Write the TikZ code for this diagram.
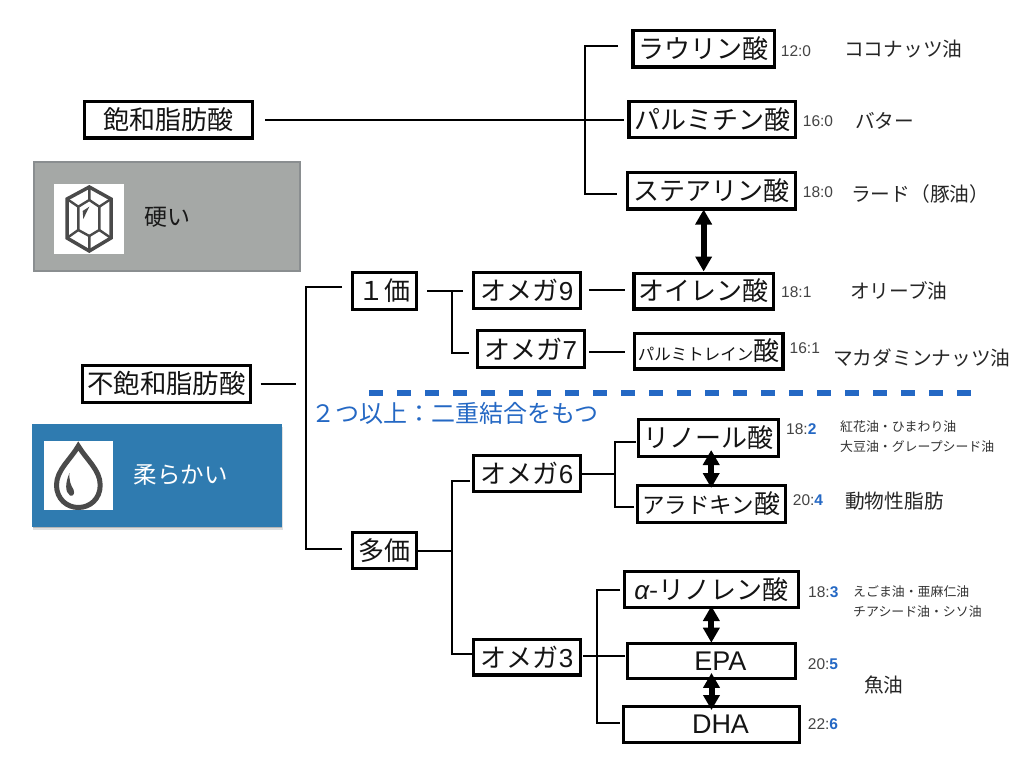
\documentclass[tikz,border=0pt]{standalone}
\usepackage{fontspec}
\setmainfont{Noto Sans CJK JP}
\newfontfamily\latin{Liberation Sans}
\usetikzlibrary{arrows.meta}
\definecolor{numblue}{HTML}{2468C4}
\definecolor{numgray}{HTML}{444444}
\definecolor{hardfill}{HTML}{A5A8A6}
\definecolor{hardline}{HTML}{8A8E90}
\definecolor{softfill}{HTML}{2F7BB0}
\definecolor{icongray}{HTML}{4A4A4A}
\newcommand{\fs}[1]{\fontsize{#1}{#1}\selectfont}
\newcommand{\ratio}[2]{{\latin\fs{15.5}\textcolor{numgray}{#1:#2}}}
\newcommand{\ratiob}[2]{{\latin\fs{15.5}\textcolor{numgray}{#1:}\textcolor{numblue}{\bfseries #2}}}
\tikzset{
 x=1pt,y=-1pt,
 boxn/.style={draw=black,line width=3.2pt,fill=white,inner sep=0pt,font=\fs{26},text=black!92},
 wire/.style={draw=black,line width=2pt},
 dbl/.style={draw=black,line width=6pt,{Triangle[width=16pt,length=15pt]}-{Triangle[width=16pt,length=15pt]}},
 oil/.style={inner sep=0pt,anchor=west,font=\fs{19.7},text=black!85},
 oilsmall/.style={inner sep=0pt,anchor=west,font=\fontsize{12.9}{20}\selectfont,text=black!80,align=left},
 num/.style={inner sep=0pt,anchor=west},
 panel/.style={inner sep=0pt},
 icon/.style={draw=icongray,line width=3.5pt,line join=miter},
 iconthin/.style={draw=icongray,line width=2.4pt,line join=miter},
}
\newcommand{\bx}[6]{\node[boxn,minimum width=#3-#2-3.2pt,minimum height=#5-#4-3.2pt] (#1) at ({(#2+#3)/2},{(#4+#5)/2}) {#6};}
\begin{document}
\begin{tikzpicture}
\useasboundingbox (0,0) rectangle (1017,768);
\fill[white] (0,0) rectangle (1017,768);
% panels
\node[panel,draw=hardline,line width=2pt,fill=hardfill,minimum width=265.5pt,minimum height=108.5pt] (hard) at (166.8,216.3) {};
\fill[black,opacity=.12] (32.5,427) rectangle (282.5,529.5);
\fill[black,opacity=.18] (32.5,426) rectangle (282,528);
\node[panel,fill=softfill,minimum width=250pt,minimum height=102.7pt] (soft) at (157,475.4) {};
\node[panel,fill=white,minimum width=70pt,minimum height=70pt] (gemicon) at (89,219) {};
\node[panel,fill=white,minimum width=69pt,minimum height=69pt] (dropicon) at (78.5,475.5) {};
\node[inner sep=0pt,font=\fs{23},text=black!90] (hardtxt) at (167,217) {硬い};
\node[inner sep=0pt,font=\fs{23.5},text=white] (softtxt) at (180.5,475) {柔らかい};
% gem
\draw[icon] (89.3,187)--(111,199)--(111,238)--(89.3,251)--(67,238)--(67,199)--cycle;
\draw[iconthin] (89.3,200)--(99.3,206.7)--(99.3,230)--(89.3,236)--(78.3,230)--(78.3,206.7)--cycle;
\draw[iconthin] (89.3,187)--(89.3,200) (89.3,236)--(89.3,251) (67,199)--(78.3,206.7) (111,199)--(99.3,206.7) (67,238)--(78.3,230) (111,238)--(99.3,230);
\fill[icongray] (89.3,206.7)--(82.7,211)--(83.3,219)--cycle;
% drop
\draw[icongray,line width=5pt,line join=miter] (78.3,446) .. controls (71,459) and (56.5,470) .. (56.5,485) .. controls (56.5,499) and (67,507.5) .. (78.3,507.5) .. controls (90,507.5) and (100.2,499) .. (100.2,485) .. controls (100.2,470) and (86,459) .. (78.3,446) -- cycle;
\fill[icongray] (69.5,473) .. controls (65.5,482) and (64.5,492) .. (70,495.5) .. controls (73.5,497) and (75,493) .. (73.5,489.5) .. controls (70.5,485) and (69,480) .. (69.5,473) -- cycle;
% boxes
\bx{lau}{631.3}{775.7}{29}{68.7}{ラウリン酸}
\bx{pal}{627.3}{796.7}{100}{139.3}{パルミチン酸}
\bx{ste}{626}{796.7}{171.2}{210.5}{ステアリン酸}
\bx{ole}{632.3}{775}{271.5}{310.5}{オイレン酸}
\bx{pol}{632.5}{784.5}{331.5}{370.5}{\fs{16.5}パルミトレイン\fs{26}酸}
\bx{sat}{83}{253.7}{100}{139.5}{飽和脂肪酸}
\bx{uns}{81}{252}{364}{403.7}{\fs{26.4}不飽和脂肪酸}
\bx{mono}{351}{417.7}{271}{310.7}{１価}
\bx{om9}{472}{582}{271}{310}{オメガ{\latin 9}}
\bx{om7}{476}{585.7}{329}{368.7}{オメガ{\latin 7}}
\bx{lin}{636.7}{780}{418}{457.7}{リノール酸}
\bx{ara}{635.7}{786.7}{484}{523.7}{\fs{22.5}アラドキン\fs{26}酸}
\bx{om6}{472}{582}{454}{493}{オメガ{\latin 6}}
\bx{poly}{351}{417.7}{531}{570}{多価}
\bx{om3}{472}{582}{638}{676.5}{オメガ{\latin 3}}
\bx{ala}{622.7}{800}{570}{609}{{\latin\itshape α}-リノレン酸}
\bx{epa}{626}{796.7}{641.7}{680.2}{\hspace{18pt}\latin\fs{27}EPA}
\bx{dha}{622}{801}{705}{744}{\hspace{18pt}\latin\fs{27}DHA}
% free ends and junctions
\coordinate (satend) at (265,120);
\coordinate (palend) at (624,120);
\coordinate (t1a) at (584.7,46);
\coordinate (t1b) at (584.7,194);
\coordinate (lauend) at (618,46);
\coordinate (steend) at (617,194);
\coordinate (unsA) at (260.7,384);
\coordinate (unsB) at (296,384);
\coordinate (u1) at (305.7,287);
\coordinate (u2) at (305.7,549);
\coordinate (m1) at (342,287);
\coordinate (p1) at (342,549);
\coordinate (ma) at (427,290.5);
\coordinate (mb) at (462.7,290.5);
\coordinate (mj) at (451.5,290.5);
\coordinate (mj2) at (451.5,353);
\coordinate (mend) at (469,353);
\coordinate (o9a) at (589,290);
\coordinate (o9b) at (625,290);
\coordinate (o7a) at (589,352);
\coordinate (o7b) at (625,352);
\coordinate (pj1) at (451.7,481);
\coordinate (pj1e) at (470,481);
\coordinate (pj2) at (451.7,654);
\coordinate (pj) at (451.7,550.5);
\coordinate (j6) at (615,473.7);
\coordinate (j6a) at (615,441.7);
\coordinate (j6b) at (615,506.7);
\coordinate (j6ae) at (636,441.7);
\coordinate (j6be) at (634,506.7);
\coordinate (j3s) at (583,656);
\coordinate (j3e) at (625,656);
\coordinate (j3a) at (596.8,590);
\coordinate (j3b) at (596.8,723);
\coordinate (j3ae) at (620,590);
\coordinate (j3be) at (620,723);
% connectors
\draw[wire] (satend) -- (palend);
\draw[wire] (lauend) -- (t1a) -- (t1b) -- (steend);
\draw[wire] (unsA) -- (unsB);
\draw[wire] (m1) -- (u1) -- (u2) -- (p1);
\draw[wire] (ma) -- (mb);
\draw[wire] (mj) -- (mj2) -- (mend);
\draw[wire] (o9a) -- (o9b);
\draw[wire] (o7a) -- (o7b);
\draw[wire] (poly.east) -- (pj);
\draw[wire] (pj1e) -- (pj1) -- (pj2) -- (om3.west |- pj2);
\draw[wire] (om6.east |- j6) -- (j6);
\draw[wire] (j6ae) -- (j6a) -- (j6b) -- (j6be);
\draw[wire] (j3s) -- (j3e);
\draw[wire] (j3ae) -- (j3a) -- (j3b) -- (j3be);
% double arrows
\draw[dbl,shorten <=-1pt] (ole.north |- ste.south) -- (ole.north);
\draw[dbl,shorten <=-7.7pt,shorten >=-4pt] (ara.north |- lin.south) -- (ara.north);
\draw[dbl,shorten <=-3pt,shorten >=-1pt] (ala.south) -- (ala.south |- epa.north);
\draw[dbl,shorten <=-7.3pt,shorten >=-5pt] (dha.north |- epa.south) -- (dha.north);
% dashed separator
\coordinate (sepa) at (369,393);
\coordinate (sepb) at (972,393);
\draw[draw=numblue,line width=6.7pt,dash pattern=on 14pt off 14pt] (sepa) -- (sepb);
\node[inner sep=0pt,anchor=west,font=\fs{24},text=numblue] (two) at (311,413) {２つ以上：二重結合をもつ};
% numbers
\node[num] (n1) at (780.7,51) {\ratio{12}{0}};
\node[num] (n2) at (802.7,120.7) {\ratio{16}{0}};
\node[num] (n3) at (802.7,192.5) {\ratio{18}{0}};
\node[num] (n4) at (781,291.7) {\ratio{18}{1}};
\node[num] (n5) at (789.5,348.5) {\ratio{16}{1}};
\node[num] (n6) at (786,429) {\ratiob{18}{2}};
\node[num] (n7) at (792.7,500.5) {\ratiob{20}{4}};
\node[num] (n8) at (808,592) {\ratiob{18}{3}};
\node[num] (n9) at (807.7,664) {\ratiob{20}{5}};
\node[num] (n10) at (807.7,724) {\ratiob{22}{6}};
% oils
\node[oil] (o1) at (844,49) {ココナッツ油};
\node[oil] (o2) at (855,120.7) {バター};
\node[oil] (o3) at (851,194) {ラード（豚油）};
\node[oil] (o4) at (850,291) {オリーブ油};
\node[oil] (o5) at (833,358) {マカダミンナッツ油};
\node[oilsmall] (o6) at (840,437) {紅花油・ひまわり油\\大豆油・グレープシード油};
\node[oil] (o7) at (845,501) {動物性脂肪};
\node[oilsmall] (o8) at (853,601.3) {えごま油・亜麻仁油\\チアシード油・シソ油};
\node[oil] (o9) at (864,685) {魚油};
\end{tikzpicture}
\end{document}
